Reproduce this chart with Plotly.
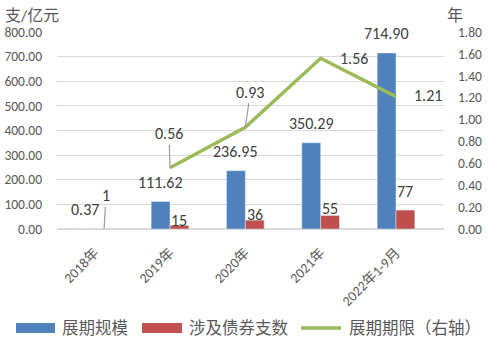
import plotly.graph_objects as go

# Data
categories = ["2018年", "2019年", "2020年", "2021年", "2022年1-9月"]
scale = [0.37, 111.62, 236.95, 350.29, 714.90]        # 展期规模 (亿元)
bond_count = [1, 15, 36, 55, 77]                     # 涉及债券支数
term = [None, 0.56, 0.93, 1.56, 1.21]                 # 展期期限 (年, 右轴)
series_names = ["展期规模", "涉及债券支数", "展期期限（右轴）"]

BLUE = "#4f81bd"
RED = "#c0504d"
GREEN = "#9bbb59"
LABEL = "#404040"
TICK = "#595959"
GRID = "#d9d9d9"
LEADER = "#9a9a9a"
FONT = "Calibri, Carlito, 'Liberation Sans', 'Noto Sans CJK SC', sans-serif"

W, H = 488, 345
ML, MR, MT, MB = 57, 44, 32, 116
PW, PH = W - ML - MR, H - MT - MB


def px_x(px):
    return (px - ML) / PW


def px_y(py):
    return (H - MB - py) / PH


fig = go.Figure()

fig.add_trace(go.Bar(x=categories, y=scale, name=series_names[0], marker_color=BLUE,
                     showlegend=False, yaxis="y"))
fig.add_trace(go.Bar(x=categories, y=bond_count, name=series_names[1], marker_color=RED,
                     showlegend=False, yaxis="y"))
fig.add_trace(go.Scatter(x=categories, y=term, name=series_names[2], mode="lines",
                         line=dict(color=GREEN, width=3.5), showlegend=False,
                         yaxis="y2", connectgaps=False))

ann = []
lab_font = dict(family=FONT, size=16, color=LABEL)

# Labels over the scale bars
for i, v in enumerate(scale):
    ann.append(dict(x=i - 0.125, y=v, xref="x", yref="y", text=f"{v:.2f}",
                    showarrow=False, yanchor="middle", yshift=19, font=lab_font))

# Labels over the bond-count bars (small per-label nudges)
red_shift = [None, 5, 6, 6.5, 19]
for i, v in enumerate(bond_count):
    if red_shift[i] is None:
        ann.append(dict(x=i + 0.125, y=v, xref="x", yref="y", text=f"{v}",
                        showarrow=True, arrowhead=0, arrowwidth=1.2, arrowcolor=LEADER,
                        ax=2, ay=-33, font=lab_font))
    else:
        ann.append(dict(x=i + 0.125, y=v, xref="x", yref="y", text=f"{v}",
                        showarrow=False, yanchor="middle", yshift=red_shift[i], font=lab_font))

# Labels for the term line
term_pos = {1: ("arrow", -1, -34), 2: ("arrow", 5, -35), 3: ("side", 33, 0), 4: ("side", 32, -1)}
for i, v in enumerate(term):
    if v is None:
        continue
    kind, dx, dy = term_pos[i]
    if kind == "arrow":
        ann.append(dict(x=i, y=v, xref="x", yref="y2", text=f"{v:.2f}",
                        showarrow=True, arrowhead=0, arrowwidth=1.2, arrowcolor=LEADER,
                        ax=dx, ay=dy, font=lab_font))
    else:
        ann.append(dict(x=i, y=v, xref="x", yref="y2", text=f"{v:.2f}",
                        showarrow=False, xshift=dx, yshift=-dy, font=lab_font))

# Axis unit titles
ann.append(dict(x=0, y=1, xref="paper", yref="paper", text="支/亿元", showarrow=False,
                xanchor="left", yanchor="middle", xshift=-54, yshift=17,
                font=dict(family=FONT, size=16, color=TICK)))
ann.append(dict(x=1, y=1, xref="paper", yref="paper", text="年", showarrow=False,
                xanchor="left", yanchor="middle", xshift=1, yshift=17,
                font=dict(family=FONT, size=16, color=TICK)))

# Legend row along the bottom: swatch start/end (px) and kind
legend_items = [
    (series_names[0], BLUE, 16, 55, "box"),
    (series_names[1], RED, 142, 182, "box"),
    (series_names[2], GREEN, 300, 342, "line"),
]
legend_y = 328
shapes = []
for name, col, x0, x1, kind in legend_items:
    if kind == "box":
        shapes.append(dict(type="rect", xref="paper", yref="paper",
                           x0=px_x(x0), x1=px_x(x1), y0=px_y(legend_y + 5), y1=px_y(legend_y - 5),
                           fillcolor=col, line=dict(width=0)))
    else:
        shapes.append(dict(type="line", xref="paper", yref="paper",
                           x0=px_x(x0 + 1), x1=px_x(x1 - 1), y0=px_y(legend_y), y1=px_y(legend_y),
                           line=dict(color=col, width=3.5)))
    ann.append(dict(x=px_x(x1 + 5), y=px_y(legend_y), xref="paper", yref="paper",
                    text=name, showarrow=False, xanchor="left", yanchor="middle",
                    font=dict(family=FONT, size=16.5, color=TICK)))

fig.update_layout(
    width=W, height=H,
    margin=dict(l=ML, r=MR, t=MT, b=MB, autoexpand=False),
    paper_bgcolor="white", plot_bgcolor="white",
    barmode="group", bargap=0.5, bargroupgap=0,
    showlegend=False,
    font=dict(family=FONT, size=12, color=TICK),
    xaxis=dict(type="category", tickangle=-45, showgrid=False, showline=False,
               ticks="", automargin=False, ticklabelstandoff=12,
               tickfont=dict(size=14, color=TICK)),
    yaxis=dict(range=[0, 800], dtick=100, tickformat=".2f", showgrid=True,
               gridcolor=GRID, gridwidth=1, zeroline=True, zerolinecolor=GRID,
               automargin=False, ticklabelstandoff=14,
               tickfont=dict(size=13.5, color=TICK)),
    yaxis2=dict(range=[0, 1.8], dtick=0.2, tickformat=".2f", overlaying="y",
                side="right", showgrid=False, zeroline=False, automargin=False,
                ticklabelstandoff=13, tickfont=dict(size=13.5, color=TICK)),
    shapes=shapes,
    annotations=ann,
)

fig.write_html("out.html")
